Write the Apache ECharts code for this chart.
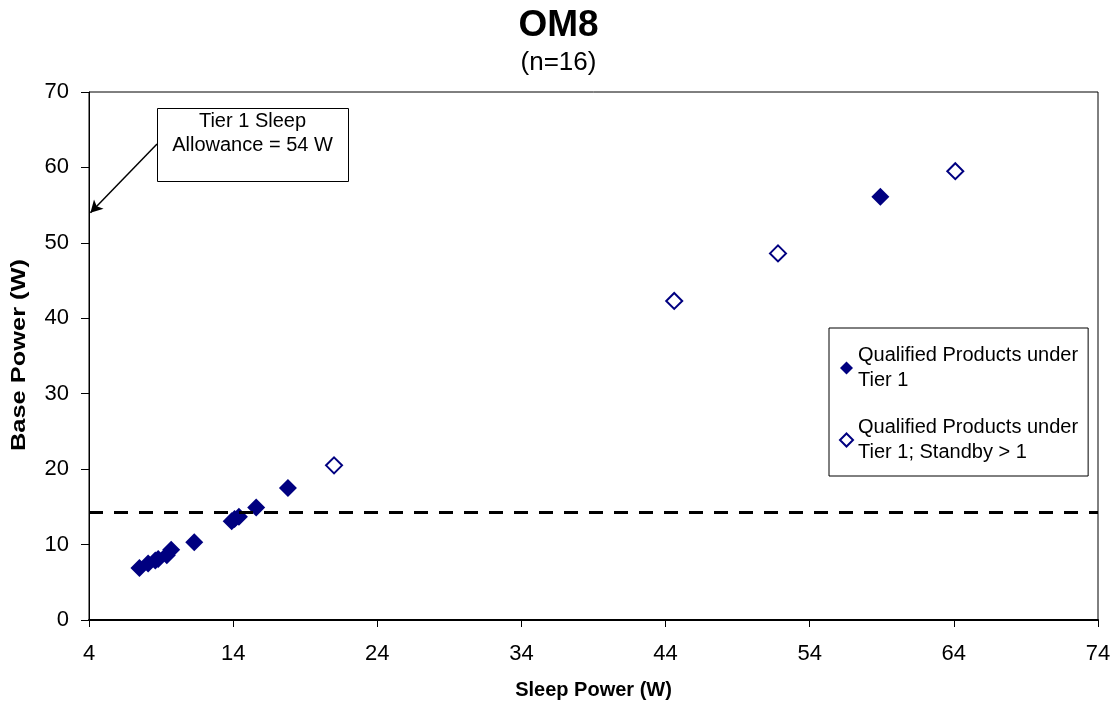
<!DOCTYPE html>
<html>
<head>
<meta charset="utf-8">
<script src="https://cdn.jsdelivr.net/npm/echarts@6/dist/echarts.min.js"></script>
<style>html,body{margin:0;padding:0;background:#fff;}#c{width:1117px;height:710px;}</style>
</head>
<body>
<div id="c"></div>
<script>
// Data
const tier1Sleep = [7.5, 8.1, 8.6, 8.8, 9.4, 9.7, 11.3, 13.9, 14.1, 14.4, 15.6, 17.8, 58.9];
const tier1Base  = [6.9, 7.5, 7.9, 8.1, 8.6, 9.3, 10.3, 13.1, 13.4, 13.7, 14.9, 17.5, 56.1];
const standbySleep = [21.0, 44.6, 51.8, 64.1];
const standbyBase  = [20.5, 42.3, 48.6, 59.5];
const seriesNames = ['Qualified Products under\nTier 1', 'Qualified Products under\nTier 1; Standby > 1'];
const thresholdBase = 14.3;
const arrowFrom = [8.72, 63.1];
const arrowTo = [4.1, 54];
const xTicks = {min: 4, max: 74, interval: 10};
const yTicks = {min: 0, max: 70, interval: 10};

const navy = '#000080';
const font = 'Liberation Sans, Arial, sans-serif';
const chart = echarts.init(document.getElementById('c'), null, {renderer: 'canvas'});
const zip = (a, b) => a.map((v, i) => [v, b[i]]);

chart.setOption({
  animation: false,
  backgroundColor: '#fff',
  textStyle: {fontFamily: font},
  title: {
    text: 'OM8', subtext: '(n=16)', left: 'center', top: 2, itemGap: 6,
    textStyle: {fontFamily: font, fontSize: 37, fontWeight: 'bold', color: '#000'},
    subtextStyle: {fontFamily: font, fontSize: 26, color: '#000'}
  },
  grid: {left: 89, right: 19, top: 92, bottom: 90, show: true, borderColor: '#000', borderWidth: 1},
  xAxis: {
    type: 'value', min: xTicks.min, max: xTicks.max, interval: xTicks.interval,
    name: 'Sleep Power (W)', nameLocation: 'middle', nameGap: 60,
    nameTextStyle: {fontFamily: font, fontSize: 20, fontWeight: 'bold', color: '#000'},
    axisLine: {lineStyle: {color: '#000', width: 2}},
    axisTick: {show: true, inside: false, length: 7, lineStyle: {color: '#000'}},
    axisLabel: {fontFamily: font, fontSize: 22, color: '#000', margin: 23},
    splitLine: {show: false}
  },
  yAxis: {
    type: 'value', min: yTicks.min, max: yTicks.max, interval: yTicks.interval,
    axisLine: {show: true, lineStyle: {color: '#000', width: 1}},
    axisTick: {show: true, inside: false, length: 8, lineStyle: {color: '#000'}},
    axisLabel: {fontFamily: font, fontSize: 22, color: '#000', margin: 20},
    splitLine: {show: false}
  },
  legend: {
    orient: 'vertical', left: 829, top: 328,
    backgroundColor: '#fff', borderColor: '#000', borderWidth: 1,
    padding: [15, 10, 11, 10], itemGap: 22, itemWidth: 13, itemHeight: 13, itemTextGap: 6,
    textStyle: {fontFamily: font, fontSize: 20, color: '#000', lineHeight: 25},
    data: [
      {name: seriesNames[0], icon: 'diamond'},
      {name: seriesNames[1], icon: 'diamond'}
    ]
  },
  series: [
    {
      name: seriesNames[0], type: 'scatter', symbol: 'diamond', symbolSize: 18,
      itemStyle: {color: navy, opacity: 1},
      data: zip(tier1Sleep, tier1Base),
      z: 3,
      markLine: {
        silent: true, animation: false,
        symbol: ['none', 'none'],
        label: {show: false},
        lineStyle: {color: '#000', type: [14, 11], width: 3},
        data: [{yAxis: thresholdBase}]
      }
    },
    {
      name: seriesNames[1], type: 'scatter', symbol: 'diamond', symbolSize: 16,
      itemStyle: {color: '#fff', borderColor: navy, borderWidth: 2, opacity: 1},
      data: zip(standbySleep, standbyBase),
      z: 3,
      markLine: {
        silent: true, animation: false,
        symbol: ['none', 'arrow'], symbolSize: [10, 12],
        label: {show: false},
        lineStyle: {color: '#000', type: 'solid', width: 1.5},
        data: [[{coord: arrowFrom}, {coord: arrowTo}]]
      }
    }
  ],
  graphic: [
    {
      type: 'text', x: 19, y: 355, rotation: Math.PI / 2, scaleX: 1.27, z: 10,
      style: {
        text: 'Base Power (W)', align: 'center', verticalAlign: 'middle',
        font: 'bold 20px ' + font, fill: '#000'
      }
    },
    {
      type: 'rect', left: 157, top: 108, z: 10,
      shape: {width: 191, height: 73},
      style: {fill: '#fff', stroke: '#000', lineWidth: 1}
    },
    {
      type: 'text', x: 252.5, y: 109, z: 11,
      style: {
        text: 'Tier 1 Sleep\nAllowance = 54 W', align: 'center', verticalAlign: 'top',
        font: '20px ' + font, fill: '#000', lineHeight: 24
      }
    }
  ]
});
</script>
</body>
</html>
